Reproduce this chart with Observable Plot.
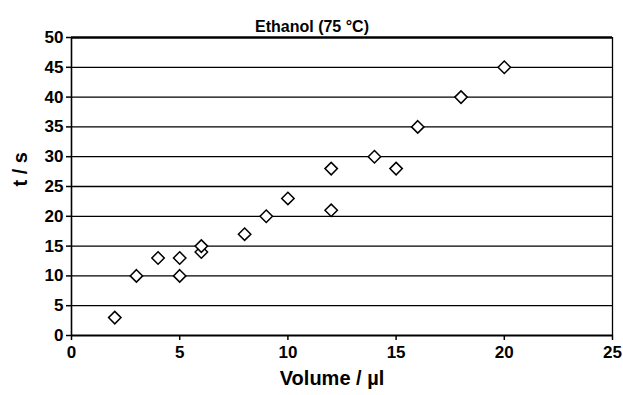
<!DOCTYPE html>
<html>
<head>
<meta charset="utf-8">
<script src="https://cdn.jsdelivr.net/npm/d3@7"></script>
<script src="https://cdn.jsdelivr.net/npm/@observablehq/plot@0.6"></script>
<style>
  html, body { margin: 0; padding: 0; background: #fff; }
</style>
</head>
<body>
<div id="chart"></div>
<script>
const title = "Ethanol (75 °C)";
const xLabel = "Volume / µl";
const yLabel = "t / s";
const volumes = [2, 3, 4, 5, 5, 6, 6, 8, 9, 10, 12, 12, 14, 15, 16, 18, 20];
const times   = [3, 10, 13, 13, 10, 14, 15, 17, 20, 23, 28, 21, 30, 28, 35, 40, 45];
const xTicks = [0, 5, 10, 15, 20, 25];
const yTicks = [0, 5, 10, 15, 20, 25, 30, 35, 40, 45, 50];
const gridLines = [5, 10, 15, 20, 25, 30, 35, 40, 45];

const points = volumes.map((v, i) => ({volume: v, time: times[i]}));

const chart = Plot.plot({
  width: 623,
  height: 395,
  marginLeft: 71,
  marginRight: 11,
  marginTop: 37,
  marginBottom: 60,
  style: {fontFamily: "'Liberation Sans', Arial, sans-serif", color: "black", background: "white"},
  x: {domain: [0, 25]},
  y: {domain: [0, 50]},
  marks: [
    Plot.ruleY(gridLines, {stroke: "black", strokeWidth: 1.3}),
    Plot.ruleY([50], {stroke: "black", strokeWidth: 2.5}),
    Plot.ruleX([25], {stroke: "black", strokeWidth: 1.3}),
    Plot.ruleX([0], {stroke: "black", strokeWidth: 1.6}),
    Plot.ruleY([0], {stroke: "black", strokeWidth: 2}),
    Plot.axisY({ticks: yTicks, tickSize: 5, tickPadding: 3, fontSize: 17, fontWeight: "bold", label: null, strokeWidth: 1.5}),
    Plot.axisX({ticks: xTicks, tickSize: 5, tickPadding: 5, fontSize: 17, fontWeight: "bold", label: null, strokeWidth: 1.5}),
    Plot.dot(points, {x: "volume", y: "time", symbol: "diamond2", r: 5.6, fill: "white", stroke: "black", strokeWidth: 1.5}),
    Plot.text([title], {frameAnchor: "top", dy: -17, dx: -30, fontSize: 16, fontWeight: "bold"}),
    Plot.text([xLabel], {frameAnchor: "bottom", dy: 49, dx: -10, fontSize: 20, fontWeight: "bold"}),
    Plot.text([yLabel], {frameAnchor: "left", dx: -51, rotate: -90, fontSize: 20, fontWeight: "bold"})
  ]
});
document.getElementById("chart").appendChild(chart);
</script>
</body>
</html>
